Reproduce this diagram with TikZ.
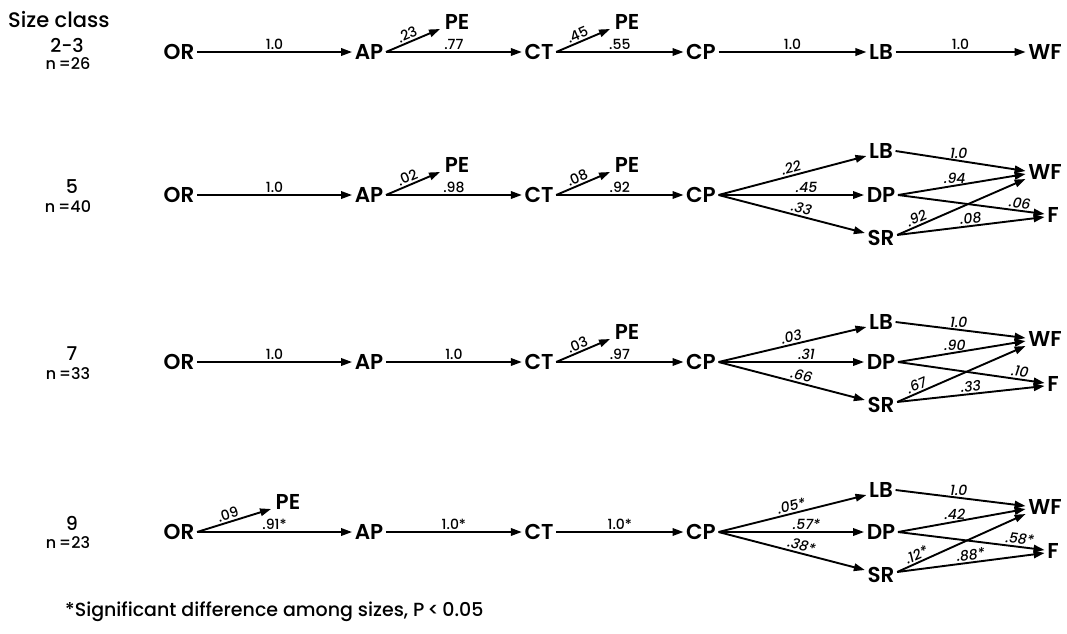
\documentclass[tikz,border=0pt]{standalone}
\usepackage{fontspec}
\setmainfont{Poppins SemiBold}
\newfontfamily\medfont{Poppins Medium}
\newfontfamily\slfont[FakeSlant=0.18]{Poppins Medium}
\usetikzlibrary{arrows.meta}
\tikzset{
  nd/.style={font=\fontsize{21.5}{21.5}\selectfont, inner sep=2.5pt},
  ar/.style={-{Triangle[length=11pt,width=7.5pt]}, line width=1.9pt},
  lb/.style={font=\fontsize{14}{14}\medfont, above, inner sep=1.5pt},
  sl/.style={font=\fontsize{14}{14}\slfont, above, inner sep=1.5pt},
  szn/.style={font=\fontsize{19}{19}\medfont, inner sep=0pt},
  szc/.style={font=\fontsize{16}{16}\medfont, inner sep=0pt},
  pe/.style={xshift=-2pt, yshift=-7pt},
}
\begin{document}
\begin{tikzpicture}[x=1pt,y=-1pt]
\useasboundingbox (0,0) rectangle (1067,633);
% header
\node[anchor=west, font=\fontsize{21}{21}\medfont, inner sep=0pt] (hd) at (8,20) {Size class};
% ---------- row 1 ----------
\node[szn] (s1) at (67,45) {2-3};
\node[szc] (n1) at (68,64) {n\thinspace=26};
\node[nd] (OR1) at (179,52) {OR};
\node[nd] (AP1) at (369,52) {AP};
\node[nd] (PEa1) at (457,22) {PE};
\node[nd] (CT1) at (539,52) {CT};
\node[nd] (PEb1) at (627,22) {PE};
\node[nd] (CP1) at (701,52) {CP};
\node[nd] (LB1) at (881,52) {LB};
\node[nd] (WF1) at (1045,52) {WF};
\draw[ar] (OR1) -- node[lb]{1.0} (AP1);
\draw[ar] (AP1.east) -- node[lb, sloped, pos=0.45]{.23} ([pe]PEa1.west);
\draw[ar] (AP1.east) -- node[lb]{.77} (CT1.west);
\draw[ar] (CT1.east) -- node[lb, sloped, pos=0.45]{.45} ([pe]PEb1.west);
\draw[ar] (CT1.east) -- node[lb]{.55} (CP1.west);
\draw[ar] (CP1) -- node[lb]{1.0} (LB1);
\draw[ar] (LB1) -- node[lb]{1.0} (WF1);
% ---------- row 2 ----------
\node[szn] (s2) at (72,187) {5};
\node[szc] (n2) at (68,207) {n\thinspace=40};
\node[nd] (OR2) at (179,195) {OR};
\node[nd] (AP2) at (369,195) {AP};
\node[nd] (PEa2) at (457,165) {PE};
\node[nd] (CT2) at (539,195) {CT};
\node[nd] (PEb2) at (627,165) {PE};
\node[nd] (CP2) at (701,195) {CP};
\node[nd] (LB2) at (881,151) {LB};
\node[nd] (DP2) at (881,195) {DP};
\node[nd] (SR2) at (881,238) {SR};
\node[nd] (WF2) at (1045,172) {WF};
\node[nd] (F2) at (1053,215) {F};
\draw[ar] (OR2) -- node[lb]{1.0} (AP2);
\draw[ar] (AP2.east) -- node[lb, sloped, pos=0.45]{.02} ([pe]PEa2.west);
\draw[ar] (AP2.east) -- node[lb]{.98} (CT2.west);
\draw[ar] (CT2.east) -- node[lb, sloped, pos=0.45]{.08} ([pe]PEb2.west);
\draw[ar] (CT2.east) -- node[lb]{.92} (CP2.west);
\draw[ar] (CP2.east) -- node[sl, sloped, pos=0.5]{.22} ([yshift=-5pt]LB2.west);
\draw[ar] (CP2.east) -- node[sl, pos=0.6]{.45} (DP2.west);
\draw[ar] (CP2.east) -- node[sl, sloped, pos=0.55]{.33} ([yshift=5pt]SR2.west);
\draw[ar] (LB2.east) -- node[sl, pos=0.48]{1.0} ([yshift=1pt]WF2.west);
\draw[ar] (DP2.east) -- node[sl, pos=0.44]{.94} ([yshift=-2pt]WF2.west);
\draw[ar] (DP2.east) -- node[sl, sloped, pos=0.82]{.06} ([yshift=1pt]F2.west);
\draw[ar] ([yshift=3pt]SR2.east) -- node[sl, sloped, pos=0.17]{.92} ([yshift=-7pt]WF2.west);
\draw[ar] ([yshift=3pt]SR2.east) -- node[sl, sloped, pos=0.5]{.08} ([yshift=-2pt]F2.west);
% ---------- row 3 ----------
\node[szn] (s3) at (72,354) {7};
\node[szc] (n3) at (68,374) {n\thinspace=33};
\node[nd] (OR3) at (179,362) {OR};
\node[nd] (AP3) at (369,362) {AP};
\node[nd] (CT3) at (539,362) {CT};
\node[nd] (PEb3) at (627,332) {PE};
\node[nd] (CP3) at (701,362) {CP};
\node[nd] (LB3) at (881,322) {LB};
\node[nd] (DP3) at (881,362) {DP};
\node[nd] (SR3) at (881,405) {SR};
\node[nd] (WF3) at (1045,339) {WF};
\node[nd] (F3) at (1053,384) {F};
\draw[ar] (OR3) -- node[lb]{1.0} (AP3);
\draw[ar] (AP3) -- node[lb]{1.0} (CT3);
\draw[ar] (CT3.east) -- node[lb, sloped, pos=0.45]{.03} ([pe]PEb3.west);
\draw[ar] (CT3.east) -- node[lb]{.97} (CP3.west);
\draw[ar] (CP3.east) -- node[sl, sloped, pos=0.5]{.03} ([yshift=-5pt]LB3.west);
\draw[ar] (CP3.east) -- node[sl, pos=0.6]{.31} (DP3.west);
\draw[ar] (CP3.east) -- node[sl, sloped, pos=0.55]{.66} ([yshift=5pt]SR3.west);
\draw[ar] (LB3.east) -- node[sl, pos=0.48]{1.0} ([yshift=1pt]WF3.west);
\draw[ar] (DP3.east) -- node[sl, pos=0.44]{.90} ([yshift=-2pt]WF3.west);
\draw[ar] (DP3.east) -- node[sl, sloped, pos=0.82]{.10} ([yshift=1pt]F3.west);
\draw[ar] ([yshift=3pt]SR3.east) -- node[sl, sloped, pos=0.17]{.67} ([yshift=-7pt]WF3.west);
\draw[ar] ([yshift=3pt]SR3.east) -- node[sl, sloped, pos=0.5]{.33} ([yshift=-2pt]F3.west);
% ---------- row 4 ----------
\node[szn] (s4) at (72,523) {9};
\node[szc] (n4) at (68,543) {n\thinspace=23};
\node[nd] (OR4) at (179,532) {OR};
\node[nd] (PE4) at (288,502) {PE};
\node[nd] (AP4) at (369,532) {AP};
\node[nd] (CT4) at (539,532) {CT};
\node[nd] (CP4) at (701,532) {CP};
\node[nd] (LB4) at (881,490) {LB};
\node[nd] (DP4) at (881,532) {DP};
\node[nd] (SR4) at (881,575) {SR};
\node[nd] (WF4) at (1045,507) {WF};
\node[nd] (F4) at (1053,551) {F};
\draw[ar] (OR4.east) -- node[lb, sloped, pos=0.45]{.09} ([pe]PE4.west);
\draw[ar] (OR4.east) -- node[lb]{.91*} (AP4.west);
\draw[ar] (AP4) -- node[lb]{1.0*} (CT4);
\draw[ar] (CT4) -- node[lb]{1.0*} (CP4);
\draw[ar] (CP4.east) -- node[sl, sloped, pos=0.5]{.05*} ([yshift=-5pt]LB4.west);
\draw[ar] (CP4.east) -- node[sl, pos=0.6]{.57*} (DP4.west);
\draw[ar] (CP4.east) -- node[sl, sloped, pos=0.55]{.38*} ([yshift=5pt]SR4.west);
\draw[ar] (LB4.east) -- node[sl, pos=0.48]{1.0} ([yshift=1pt]WF4.west);
\draw[ar] (DP4.east) -- node[sl, pos=0.44]{.42} ([yshift=-2pt]WF4.west);
\draw[ar] (DP4.east) -- node[sl, sloped, pos=0.82]{.58*} ([yshift=1pt]F4.west);
\draw[ar] ([yshift=3pt]SR4.east) -- node[sl, sloped, pos=0.17]{.12*} ([yshift=-7pt]WF4.west);
\draw[ar] ([yshift=3pt]SR4.east) -- node[sl, sloped, pos=0.5]{.88*} ([yshift=-2pt]F4.west);
% footnote
\node[anchor=west, font=\fontsize{19}{19}\medfont, inner sep=0pt] (fn) at (65,612) {*Significant difference among sizes, P\,<\,0.05};
\end{tikzpicture}
\end{document}
